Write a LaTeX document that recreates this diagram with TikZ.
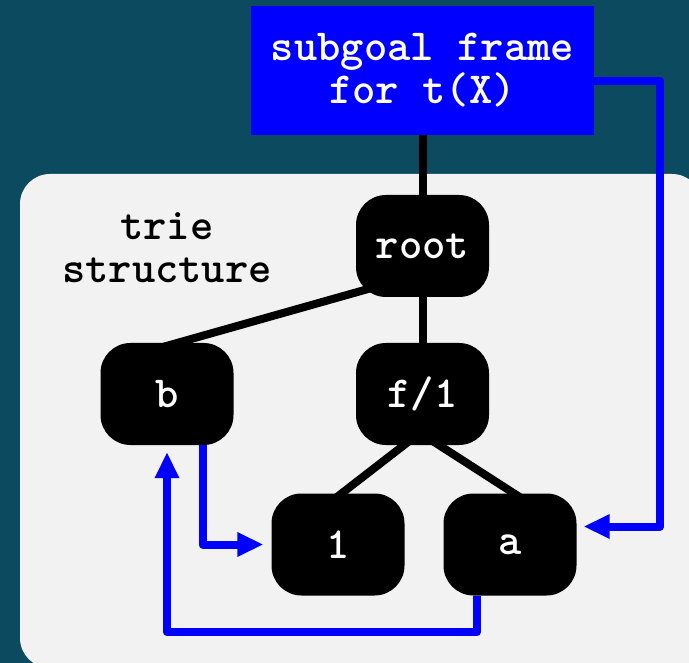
\documentclass[tikz,border=0pt]{standalone}
\usepackage{fontspec}
\usetikzlibrary{arrows.meta,calc}
\definecolor{slate}{HTML}{0C4A60}
\definecolor{panelgray}{HTML}{F2F2F2}
\definecolor{ptrblue}{HTML}{0000FF}
\pgfdeclarelayer{panellayer}
\pgfdeclarelayer{edgelayer}
\pgfsetlayers{panellayer,edgelayer,main}
\begin{document}
\begin{tikzpicture}[x=1pt,y=-1pt,
  codetext/.style={font=\ttfamily\bfseries\fontsize{44.4}{43}\selectfont},
  trienode/.style={codetext, fill=black, text=white, rounded corners=30pt,
    minimum width=133pt, minimum height=102pt, inner sep=0pt},
  framebox/.style={codetext, fill=ptrblue, text=white, align=center,
    minimum width=343pt, minimum height=129pt, inner sep=0pt},
  link/.style={draw=black, line width=8pt},
  ptrline/.style={draw=ptrblue, line width=8pt, line join=round,
    -{Triangle[length=26pt,width=23pt]}, shorten >=7pt}]
\useasboundingbox (0,0) rectangle (689,663);

% backdrop and the grey trie panel
\begin{pgfonlayer}{panellayer}
  \clip (0,0) rectangle (689,663);
  \fill[slate] (0,0) rectangle (689,663);
  \fill[panelgray, rounded corners=30pt] (20,174) rectangle (702,668);
\end{pgfonlayer}

% subgoal frame
\node[framebox] (frame) at (422.5,70.5) {subgoal frame\\for t(X)};

% trie label
\node[codetext, text=black, align=center] (label) at (167,248) {trie\\structure};

% trie nodes
\node[trienode] (root) at (422.5,246) {root};
\node[trienode] (b)    at (167,394)   {b};
\node[trienode] (fone) at (422.5,394) {f/1};
\node[trienode] (one)  at (338,544.5) {1};
\node[trienode] (a)    at (510,544.5) {a};

% trie edges
\begin{pgfonlayer}{edgelayer}
  \draw[link] (frame.south) -- (root.north);
  \draw[link] (root.south) -- (fone.north);
  \draw[link] ([xshift=-44.5pt,yshift=11pt]root.south) -- ([xshift=-7pt,yshift=-5pt]b.north);
  \draw[link] ([xshift=-10.6pt,yshift=6.2pt]fone.south) -- ([xshift=-4pt,yshift=-6pt]one.north);
  \draw[link] ([xshift=8.1pt,yshift=5.5pt]fone.south) -- ([xshift=12.4pt,yshift=-5.5pt]a.north);
\end{pgfonlayer}

% pointers
\coordinate (railR) at (660,526.5);
\coordinate (railB) at (167,632);
\draw[ptrline] ([yshift=-10.5pt]frame.east) -| (railR) -- ([yshift=18pt]a.east);
\draw[ptrline, shorten >=8pt] ([xshift=35.5pt]b.south) |- (one.west);
\draw[ptrline] ([xshift=-33pt]a.south) |- (railB) -- (b.south);
\end{tikzpicture}
\end{document}
